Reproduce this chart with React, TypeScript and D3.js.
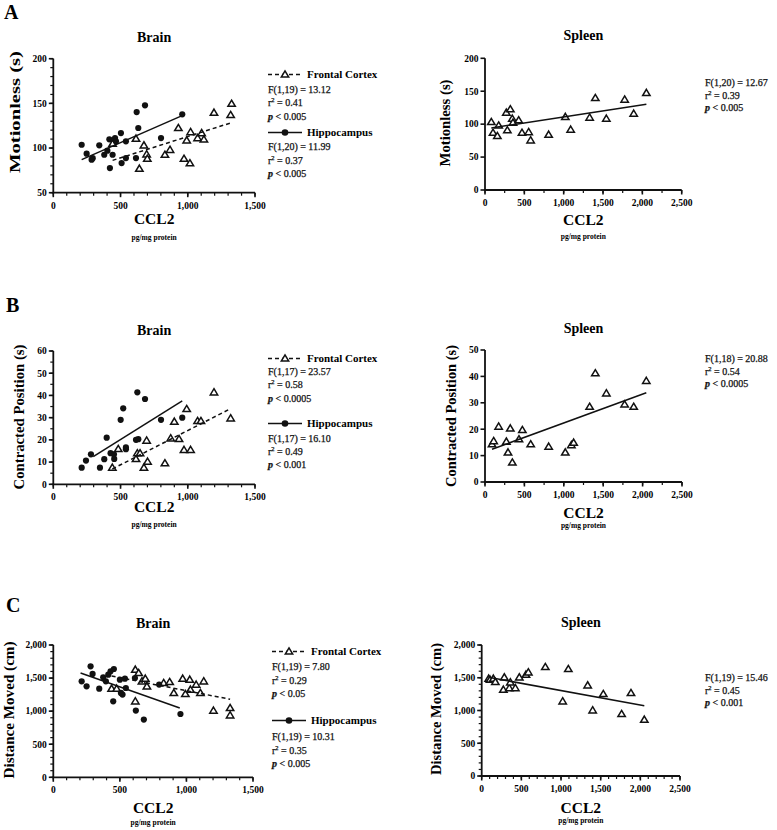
import React from 'react';
import * as d3 from 'd3';

type Pt = [number, number];

// ---------- Panel A: Motionless (s) ----------
const motionBrainFrontal: Pt[] = [
  [441, 104.9], [615, 110.5], [640, 76.9], [674, 103], [694, 93], [699, 88], [830, 92.5],
  [868, 98], [930, 122.4], [972, 88], [1016, 83], [992, 108.6], [1021, 117.9], [1073, 111.2],
  [1103, 116.8], [1120, 109.7], [1195, 139.6], [1326, 149.6], [1319, 137],
];
const motionBrainHippo: Pt[] = [
  [211, 103.7], [248, 93.7], [285, 87], [293, 88.6], [342, 103], [379, 92.5], [402, 97],
  [417, 109.7], [421, 77.6], [441, 92.5], [459, 111.2], [466, 107.5], [503, 116.8], [508, 83.2],
  [540, 107.5], [540, 88.8], [620, 140.3], [632, 122.4], [615, 88.8], [682, 147.8], [801, 111.2],
  [959, 137.7],
];
const motionBrainFrontalFit: Pt[] = [[441, 86.2], [1326, 128.4]];
const motionBrainHippoFit: Pt[] = [[211, 87], [954, 136]];
const motionSpleen: Pt[] = [
  [80, 103.3], [102, 87], [157, 82], [174, 98], [271, 117.5], [284, 90.7], [322, 122.6],
  [347, 108.4], [356, 102.3], [428, 105.9], [470, 87], [555, 88], [580, 75.5], [809, 84],
  [1021, 111], [1089, 91.7], [1330, 110], [1402, 139.8], [1542, 108.4], [1775, 137.3],
  [1890, 116], [2051, 147.4],
];
const motionSpleenFit: Pt[] = [[80, 94.2], [2051, 130.2]];

// ---------- Panel B: Contracted Position (s) ----------
const contractBrainFrontal: Pt[] = [
  [439, 7.5], [483, 15.9], [615, 11.4], [625, 14], [645, 14], [674, 7.5], [694, 19.7],
  [701, 10.2], [830, 9.5], [873, 20.7], [900, 28.2], [935, 20.4], [992, 33.9], [972, 15.5],
  [1021, 15.5], [1073, 28.5], [1098, 28.5], [1195, 41.4], [1319, 29.7],
];
const contractBrainHippo: Pt[] = [
  [211, 7.5], [243, 10.7], [280, 13.5], [347, 7.5], [379, 11.3], [397, 21], [426, 14],
  [451, 13.5], [453, 11.4], [501, 29], [520, 34.2], [540, 15.8], [540, 16.6], [615, 20],
  [632, 20.3], [625, 41.4], [682, 38.4], [801, 29], [959, 30],
];
const contractBrainFrontalFit: Pt[] = [[439, 6.9], [1314, 33.9]];
const contractBrainHippoFit: Pt[] = [[297, 12.45], [959, 37.5]];
const contractSpleen: Pt[] = [
  [89, 14.3], [110, 15.5], [173, 21], [271, 15.3], [292, 11.2], [321, 20.3], [347, 7.4],
  [431, 16.2], [474, 19.7], [580, 14.3], [808, 13.4], [1019, 11.2], [1096, 14], [1125, 14.9],
  [1328, 28.5], [1400, 41.2], [1540, 33.6], [1772, 29.4], [1887, 28.5], [2047, 38.3],
];
const contractSpleenFit: Pt[] = [[89, 12.4], [2047, 33.8]];

// ---------- Panel C: Distance Moved (cm) ----------
const distBrainFrontal: Pt[] = [
  [438, 1340], [476, 1340], [616, 1627], [641, 1577], [616, 1149], [666, 1451], [691, 1491],
  [703, 1375], [829, 1426], [874, 1441], [905, 1275], [972, 1491], [992, 1260], [1025, 1476],
  [1030, 1325], [1073, 1401], [1105, 1275], [1130, 1451], [1203, 1008], [1328, 1048], [1328, 937],
];
const distBrainHippo: Pt[] = [
  [213, 1451], [250, 1375], [280, 1678], [295, 1562], [345, 1340], [375, 1511], [395, 1451],
  [413, 1552], [430, 1602], [455, 1637], [450, 1149], [500, 1476], [508, 1275], [520, 1250],
  [538, 1491], [545, 1350], [613, 1501], [620, 1008], [680, 872], [795, 1401], [955, 957],
];
const distBrainFrontalFit: Pt[] = [[438, 1530], [1328, 1180]];
const distBrainHippoFit: Pt[] = [[205, 1577], [950, 1048]];
const distSpleen: Pt[] = [
  [88, 1486], [105, 1471], [147, 1486], [172, 1435], [273, 1318], [285, 1506], [348, 1343],
  [361, 1430], [424, 1343], [474, 1506], [558, 1547], [588, 1583], [802, 1664], [1021, 1140],
  [1092, 1634], [1336, 1384], [1399, 1003], [1533, 1252], [1764, 947], [1882, 1267], [2050, 860],
];
const distSpleenFit: Pt[] = [[88, 1506], [2050, 1074]];

// ---------- Ticks & labels ----------
const brainXTicks = [0, 500, 1000, 1500];
const spleenXTicks = [0, 500, 1000, 1500, 2000, 2500];
const motionBrainYTicks = [50, 100, 150, 200];
const motionSpleenYTicks = [0, 50, 100, 150, 200];
const contractBrainYTicks = [0, 10, 20, 30, 40, 50, 60];
const contractSpleenYTicks = [0, 10, 20, 30, 40, 50];
const distYTicks = [0, 500, 1000, 1500, 2000];

const motionFrontalStats = ['F(1,19) = 13.12', '0.41', '0.005'];
const motionHippoStats = ['F(1,20) = 11.99', '0.37', '0.005'];
const motionSpleenStats = ['F(1,20) = 12.67', '0.39', '0.005'];
const contractFrontalStats = ['F(1,17) = 23.57', '0.58', '0.0005'];
const contractHippoStats = ['F(1,17) = 16.10', '0.49', '0.001'];
const contractSpleenStats = ['F(1,18) = 20.88', '0.54', '0.0005'];
const distFrontalStats = ['F(1,19) = 7.80', '0.29', '0.05'];
const distHippoStats = ['F(1,19) = 10.31', '0.35', '0.005'];
const distSpleenStats = ['F(1,19) = 15.46', '0.45', '0.001'];

const FONT = '"Liberation Serif", "Times New Roman", Times, serif';
const fmt = d3.format(',');

type Series = { pts: Pt[]; kind: 'tri' | 'dot' };
type Fit = { pts: Pt[]; dashed: boolean };
type Cfg = {
  x0: number; x1: number; yTop: number; yBot: number;
  xDomain: [number, number]; yDomain: [number, number];
  xTicks: number[]; yTicks: number[]; xMinor: number; yMinor: number | null;
  title: string; titleY: number;
  ylabel: string; ylabelX: number; ylabelY: number; ylabelLen: number; ylabelSize: number;
  cclY: number; pgY: number;
  series: Series[]; fits: Fit[];
};

function Tri({ cx, cy }: { cx: number; cy: number }) {
  const h = 3.6;
  return (
    <path
      d={`M${cx},${cy - h} L${cx + 3.7},${cy + 2.6} L${cx - 3.7},${cy + 2.6} Z`}
      fill="#fff" stroke="#111" strokeWidth={1.5} strokeLinejoin="miter"
    />
  );
}

function Panel({ c }: { c: Cfg }) {
  const x = d3.scaleLinear().domain(c.xDomain).range([c.x0, c.x1]);
  const y = d3.scaleLinear().domain(c.yDomain).range([c.yBot, c.yTop]);
  const xMinor = d3.range(c.xDomain[0], c.xDomain[1] + 1e-6, c.xMinor);
  const yMinor = c.yMinor ? d3.range(c.yDomain[0], c.yDomain[1] + 1e-6, c.yMinor) : [];
  const line = d3.line<Pt>().x(d => x(d[0])).y(d => y(d[1]));
  const cx = (c.x0 + c.x1) / 2;
  return (
    <g fontFamily={FONT}>
      <text x={cx} y={c.titleY} textAnchor="middle" fontWeight="bold" fontSize={14}>{c.title}</text>
      {xMinor.map((v, i) => (
        <line key={'xm' + i} x1={x(v)} x2={x(v)} y1={c.yBot} y2={c.yBot + 3} stroke="#111" strokeWidth={1.2} />
      ))}
      {yMinor.map((v, i) => (
        <line key={'ym' + i} x1={c.x0 - 3} x2={c.x0} y1={y(v)} y2={y(v)} stroke="#111" strokeWidth={1.2} />
      ))}
      {c.xTicks.map((v, i) => (
        <g key={'xt' + i}>
          <line x1={x(v)} x2={x(v)} y1={c.yBot} y2={c.yBot + 4.5} stroke="#111" strokeWidth={1.6} />
          <text x={x(v)} y={c.yBot + 16} textAnchor="middle" fontWeight="bold" fontSize={9.5}>{fmt(v)}</text>
        </g>
      ))}
      {c.yTicks.map((v, i) => (
        <g key={'yt' + i}>
          <line x1={c.x0 - 4.5} x2={c.x0} y1={y(v)} y2={y(v)} stroke="#111" strokeWidth={1.6} />
          <text x={c.x0 - 6.5} y={y(v)} dy="0.35em" textAnchor="end" fontWeight="bold" fontSize={9.5}>{fmt(v)}</text>
        </g>
      ))}
      <line x1={c.x0} x2={c.x0} y1={c.yBot + 0.8} y2={c.yTop} stroke="#111" strokeWidth={1.8} />
      <line x1={c.x0 - 0.8} x2={c.x1} y1={c.yBot} y2={c.yBot} stroke="#111" strokeWidth={1.8} />
      {c.series.map((s, si) =>
        s.pts.map((p, i) =>
          s.kind === 'tri' ? (
            <Tri key={si + '-' + i} cx={x(p[0])} cy={y(p[1])} />
          ) : (
            <circle key={si + '-' + i} cx={x(p[0])} cy={y(p[1])} r={3.1} fill="#111" />
          )
        )
      )}
      {c.fits.map((f, i) => (
        <path key={'f' + i} d={line(f.pts) || ''} fill="none" stroke="#111" strokeWidth={1.5}
          strokeDasharray={f.dashed ? '4,3' : undefined} />
      ))}
      <text x={cx} y={c.cclY} textAnchor="middle" fontWeight="bold" fontSize={15.5}>CCL2</text>
      <text x={cx} y={c.pgY} textAnchor="middle" fontWeight="bold" fontSize={7.5}>pg/mg protein</text>
      <text
        transform={`translate(${c.ylabelX},${c.ylabelY}) rotate(-90)`}
        textAnchor="middle" dy="0.35em" fontWeight="bold" fontSize={c.ylabelSize}
        textLength={c.ylabelLen} lengthAdjust="spacingAndGlyphs"
      >{c.ylabel}</text>
    </g>
  );
}

function Stats({ x, y, s, lh }: { x: number; y: number; s: string[]; lh: number }) {
  return (
    <g fontFamily={FONT} fontSize={10} fill="#111" stroke="#111" strokeWidth={0.25}>
      <text x={x} y={y}>{s[0]}</text>
      <text x={x} y={y + lh}>r<tspan dy={-4} fontSize={6.5}>2</tspan><tspan dy={4}>{' = ' + s[1]}</tspan></text>
      <text x={x} y={y + 2 * lh}><tspan fontStyle="italic" fontWeight="bold">p</tspan>{' < ' + s[2]}</text>
    </g>
  );
}

function LegendHeader({ x, y, kind, label }: { x: number; y: number; kind: 'tri' | 'dot'; label: string }) {
  const mid = x + 17;
  return (
    <g fontFamily={FONT}>
      <line x1={x} x2={x + 34} y1={y - 3.5} y2={y - 3.5} stroke="#111" strokeWidth={1.5}
        strokeDasharray={kind === 'tri' ? '4,3' : undefined} />
      {kind === 'tri' ? <Tri cx={mid} cy={y - 3.5} /> : <circle cx={mid} cy={y - 3.5} r={3.3} fill="#111" />}
      <text x={x + 39} y={y} fontWeight="bold" fontSize={11}>{label}</text>
    </g>
  );
}

function BrainLegend({ x, h1, f1, h2, f2, lh, s1, s2 }: {
  x: number; h1: number; f1: number; h2: number; f2: number; lh: number; s1: string[]; s2: string[];
}) {
  return (
    <g>
      <LegendHeader x={x} y={h1} kind="tri" label="Frontal Cortex" />
      <Stats x={x} y={f1} s={s1} lh={lh} />
      <LegendHeader x={x} y={h2} kind="dot" label="Hippocampus" />
      <Stats x={x} y={f2} s={s2} lh={lh} />
    </g>
  );
}

const brainA: Cfg = {
  x0: 53.3, x1: 255, yTop: 58.7, yBot: 192.7, xDomain: [0, 1500], yDomain: [50, 200],
  xTicks: brainXTicks, yTicks: motionBrainYTicks, xMinor: 100, yMinor: 10,
  title: 'Brain', titleY: 41.5, ylabel: 'Motionless (s)', ylabelX: 15, ylabelY: 112, ylabelLen: 122, ylabelSize: 15,
  cclY: 224, pgY: 240,
  series: [{ pts: motionBrainFrontal, kind: 'tri' }, { pts: motionBrainHippo, kind: 'dot' }],
  fits: [{ pts: motionBrainFrontalFit, dashed: true }, { pts: motionBrainHippoFit, dashed: false }],
};
const spleenA: Cfg = {
  x0: 485, x1: 681.7, yTop: 58.3, yBot: 190, xDomain: [0, 2500], yDomain: [0, 200],
  xTicks: spleenXTicks, yTicks: motionSpleenYTicks, xMinor: 250, yMinor: null,
  title: 'Spleen', titleY: 40, ylabel: 'Motionless (s)', ylabelX: 445, ylabelY: 123, ylabelLen: 87, ylabelSize: 14,
  cclY: 225, pgY: 239,
  series: [{ pts: motionSpleen, kind: 'tri' }],
  fits: [{ pts: motionSpleenFit, dashed: false }],
};
const brainB: Cfg = {
  x0: 53.3, x1: 255, yTop: 351, yBot: 484.3, xDomain: [0, 1500], yDomain: [0, 60],
  xTicks: brainXTicks, yTicks: contractBrainYTicks, xMinor: 100, yMinor: 5,
  title: 'Brain', titleY: 335, ylabel: 'Contracted Position (s)', ylabelX: 19, ylabelY: 417, ylabelLen: 145, ylabelSize: 14.5,
  cclY: 512, pgY: 527,
  series: [{ pts: contractBrainFrontal, kind: 'tri' }, { pts: contractBrainHippo, kind: 'dot' }],
  fits: [{ pts: contractBrainFrontalFit, dashed: true }, { pts: contractBrainHippoFit, dashed: false }],
};
const spleenB: Cfg = {
  x0: 485, x1: 682, yTop: 350, yBot: 482, xDomain: [0, 2500], yDomain: [0, 50],
  xTicks: spleenXTicks, yTicks: contractSpleenYTicks, xMinor: 250, yMinor: null,
  title: 'Spleen', titleY: 333, ylabel: 'Contracted Position (s)', ylabelX: 451, ylabelY: 416, ylabelLen: 142, ylabelSize: 14.5,
  cclY: 518, pgY: 528,
  series: [{ pts: contractSpleen, kind: 'tri' }],
  fits: [{ pts: contractSpleenFit, dashed: false }],
};
const brainC: Cfg = {
  x0: 53.3, x1: 253, yTop: 645, yBot: 777.3, xDomain: [0, 1500], yDomain: [0, 2000],
  xTicks: brainXTicks, yTicks: distYTicks, xMinor: 100, yMinor: 100,
  title: 'Brain', titleY: 628, ylabel: 'Distance Moved (cm)', ylabelX: 8.5, ylabelY: 710, ylabelLen: 137, ylabelSize: 15,
  cclY: 813, pgY: 825,
  series: [{ pts: distBrainFrontal, kind: 'tri' }, { pts: distBrainHippo, kind: 'dot' }],
  fits: [{ pts: distBrainFrontalFit, dashed: true }, { pts: distBrainHippoFit, dashed: false }],
};
const spleenC: Cfg = {
  x0: 481.7, x1: 680, yTop: 645, yBot: 776, xDomain: [0, 2500], yDomain: [0, 2000],
  xTicks: spleenXTicks, yTicks: distYTicks, xMinor: 100, yMinor: 100,
  title: 'Spleen', titleY: 627, ylabel: 'Distance Moved (cm)', ylabelX: 436, ylabelY: 709, ylabelLen: 132, ylabelSize: 14.5,
  cclY: 813, pgY: 823,
  series: [{ pts: distSpleen, kind: 'tri' }],
  fits: [{ pts: distSpleenFit, dashed: false }],
};

export default function App() {
  return (
    <svg width={777} height={830} style={{ position: 'absolute', left: 0, top: 0, background: '#fff' }}>
      <rect width={777} height={830} fill="#fff" />
      <g fontFamily={FONT} fontWeight="bold" fontSize={20}>
        <text x={4} y={19}>A</text>
        <text x={6} y={312}>B</text>
        <text x={6} y={612}>C</text>
      </g>
      <Panel c={brainA} />
      <Panel c={spleenA} />
      <Panel c={brainB} />
      <Panel c={spleenB} />
      <Panel c={brainC} />
      <Panel c={spleenC} />
      <BrainLegend x={268} h1={78} f1={92.5} h2={136} f2={150} lh={13.7} s1={motionFrontalStats} s2={motionHippoStats} />
      <BrainLegend x={268} h1={362} f1={375} h2={427} f2={441.5} lh={13.3} s1={contractFrontalStats} s2={contractHippoStats} />
      <BrainLegend x={272} h1={655} f1={670} h2={724} f2={740} lh={13.7} s1={distFrontalStats} s2={distHippoStats} />
      <Stats x={705} y={86} s={motionSpleenStats} lh={12.5} />
      <Stats x={705} y={362} s={contractSpleenStats} lh={12.5} />
      <Stats x={705} y={681} s={distSpleenStats} lh={12.5} />
    </svg>
  );
}
